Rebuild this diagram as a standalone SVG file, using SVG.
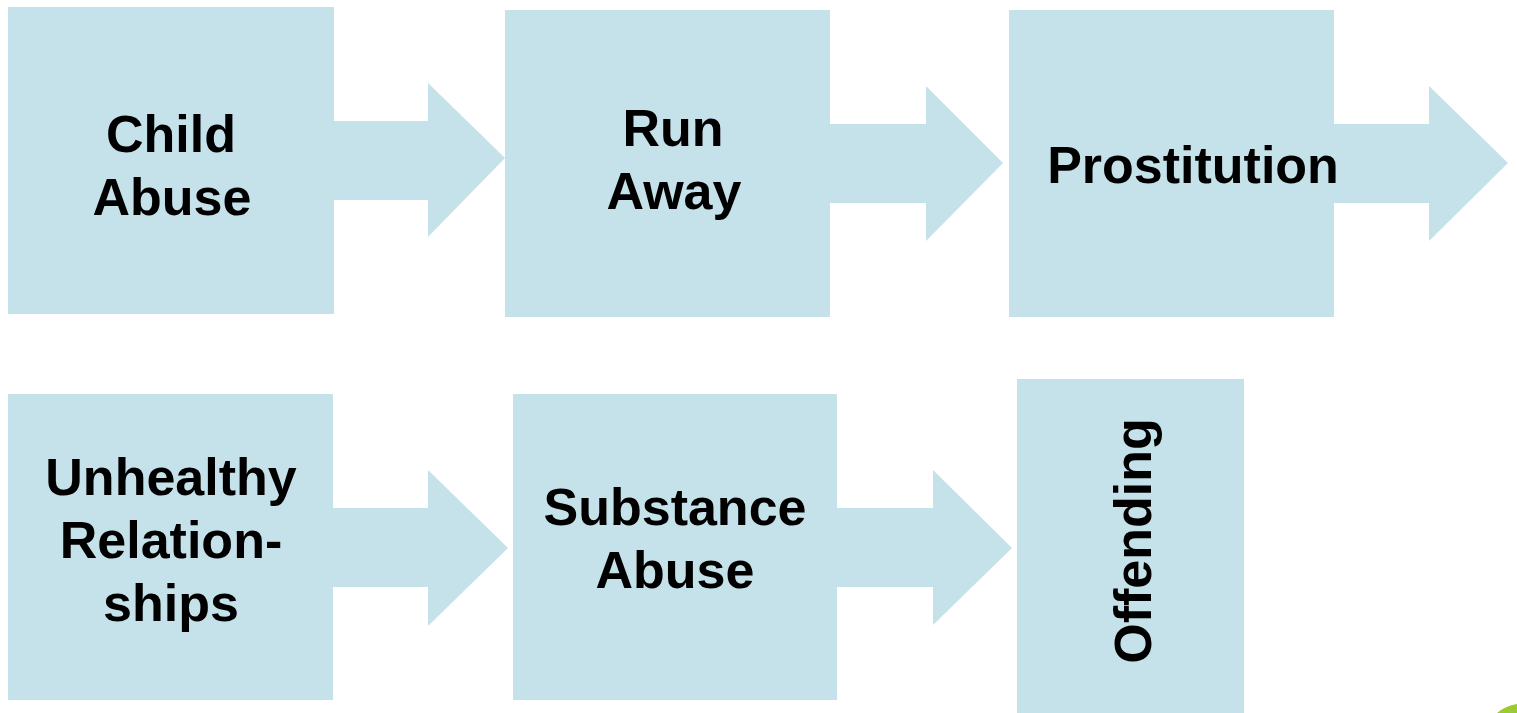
<svg xmlns="http://www.w3.org/2000/svg" width="1517" height="713" viewBox="0 0 1517 713">
<style>
.box{fill:#C5E1E9;}
.arr{fill:#C5E1E9;}
.lbl{font-family:"Liberation Sans",Arial,sans-serif;font-weight:bold;font-size:52px;fill:#000;text-anchor:middle;}
</style>
<rect width="1517" height="713" fill="#FFFFFF"/>
<g id="connectors">
<polygon class="arr" points="333,121 428,121 428,83 505,158 428,237 428,200 333,200"/>
<polygon class="arr" points="829,124 926,124 926,86 1003,163 926,241 926,203 829,203"/>
<polygon class="arr" points="1333,124 1429,124 1429,86 1508,163 1429,241 1429,203 1333,203"/>
<polygon class="arr" points="332,508 428,508 428,470 508,548 428,626 428,587 332,587"/>
<polygon class="arr" points="836,508 933,508 933,470 1012,548 933,625 933,587 836,587"/>
</g>
<g id="node-child-abuse">
<rect class="box" x="8" y="7" width="326" height="307"/>
<text class="lbl" x="171" y="152">Child</text>
<text class="lbl" x="172" y="215">Abuse</text>
</g>
<g id="node-run-away">
<rect class="box" x="505" y="10" width="325" height="307"/>
<text class="lbl" x="673" y="146">Run</text>
<text class="lbl" x="674" y="209">Away</text>
</g>
<g id="node-prostitution">
<rect class="box" x="1009" y="10" width="325" height="307"/>
<text class="lbl" x="1193" y="183">Prostitution</text>
</g>
<g id="node-unhealthy-relationships">
<rect class="box" x="8" y="394" width="325" height="306"/>
<text class="lbl" x="171" y="495">Unhealthy</text>
<text class="lbl" x="171" y="558">Relation-</text>
<text class="lbl" x="171" y="621">ships</text>
</g>
<g id="node-substance-abuse">
<rect class="box" x="513" y="394" width="324" height="306"/>
<text class="lbl" x="675" y="525">Substance</text>
<text class="lbl" x="675" y="588">Abuse</text>
</g>
<g id="node-offending">
<rect class="box" x="1017" y="379" width="227" height="340"/>
<text class="lbl" transform="translate(1151,541) rotate(-90)" x="0" y="0">Offending</text>
</g>
<path d="M1497,713 Q1505,706 1517,704 L1517,713 Z" fill="#9CCB2E"/>
</svg>
